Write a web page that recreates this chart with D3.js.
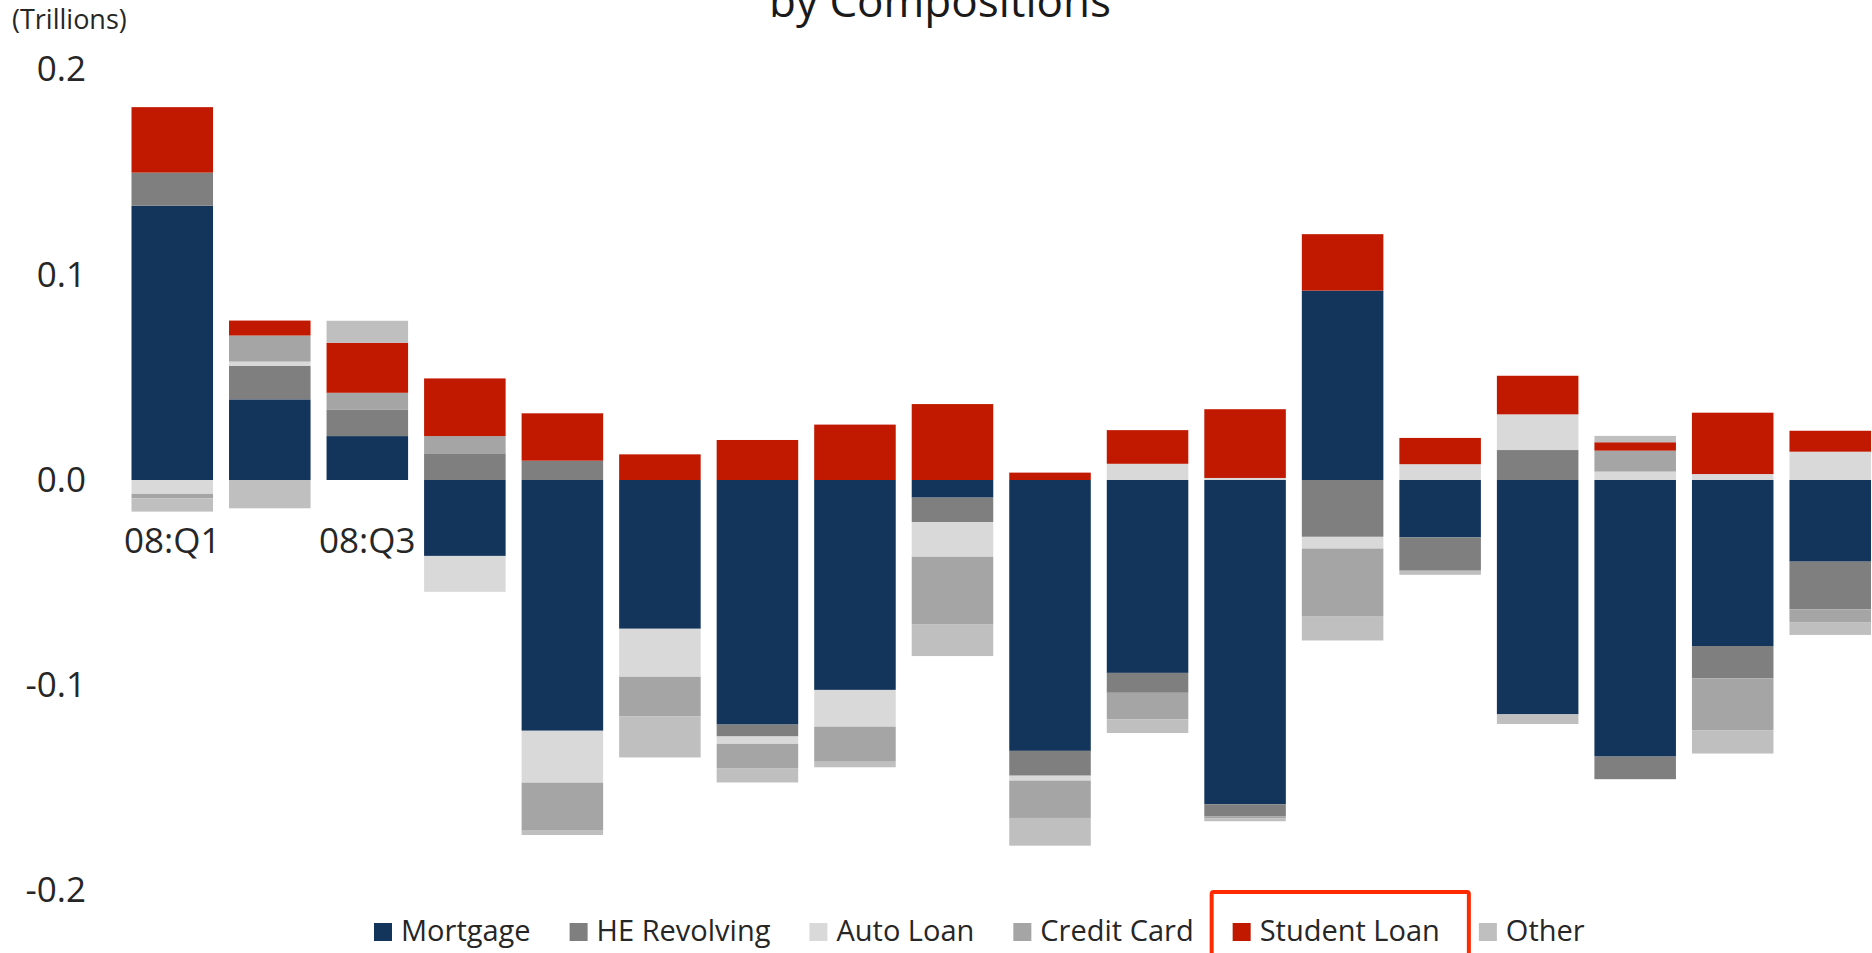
<!DOCTYPE html>
<html>
<head>
<meta charset="utf-8">
<script src="https://cdn.jsdelivr.net/npm/d3@7"></script>
<style>
  html, body { margin: 0; padding: 0; background: #ffffff; }
  svg { display: block; }
  text { font-family: "Open Sans", "DejaVu Sans", sans-serif; }
</style>
</head>
<body>
<svg id="chart" width="1872" height="953"></svg>
<script>
// ---- data ----
const categories = ["08:Q1","08:Q2","08:Q3","08:Q4","09:Q1","09:Q2","09:Q3","09:Q4",
                    "10:Q1","10:Q2","10:Q3","10:Q4","11:Q1","11:Q2","11:Q3","11:Q4","12:Q1","12:Q2"];
const seriesNames = ["Mortgage","HE Revolving","Auto Loan","Credit Card","Student Loan","Other"];
const mortgage    = [0.1337, 0.0393, 0.0214, -0.0370, -0.1222, -0.0725, -0.1192, -0.1023, -0.0086, -0.1320, -0.0940, -0.1580, 0.0923, -0.0280, -0.1142, -0.1348, -0.0809, -0.0398];
const heRevolving = [0.0161, 0.0164, 0.0130, 0.0130, 0.0094, 0, -0.0058, 0, -0.0120, -0.0121, -0.0097, -0.0058, -0.0277, -0.0162, 0.0146, -0.0110, -0.0158, -0.0232];
const autoLoan    = [-0.0068, 0.0020, 0, -0.0175, -0.0253, -0.0234, -0.0036, -0.0179, -0.0168, -0.0024, 0.0079, 0.0010, -0.0057, 0.0077, 0.0174, 0.0041, 0.0029, 0.0138];
const creditCard  = [-0.0021, 0.0127, 0.0081, 0.0084, -0.0234, -0.0192, -0.0118, -0.0171, -0.0328, -0.0182, -0.0129, -0.0010, -0.0329, 0, 0, 0.0102, -0.0252, -0.0065];
const studentLoan = [0.0319, 0.0073, 0.0244, 0.0281, 0.0231, 0.0125, 0.0195, 0.0270, 0.0370, 0.0036, 0.0164, 0.0335, 0.0275, 0.0128, 0.0188, 0.0041, 0.0299, 0.0102];
const other       = [-0.0065, -0.0138, 0.0107, 0, -0.0021, -0.0201, -0.0070, -0.0027, -0.0156, -0.0135, -0.0067, -0.0015, -0.0119, -0.0020, -0.0047, 0.0031, -0.0114, -0.0060];
const yTickValues = [0.2, 0.1, 0.0, -0.1, -0.2];
const yTickLabels = ["0.2", "0.1", "0.0", "-0.1", "-0.2"];
const xTickLabels = ["08:Q1", "08:Q3"];
const titleText = "by Compositions";
const unitText = "(Trillions)";
const highlighted = "Student Loan";

// ---- styles ----
const colors = ["#13355c", "#7f7f7f", "#d9d9d9", "#a5a5a5", "#c01900", "#bfbfbf"];

const seriesValues = [mortgage, heRevolving, autoLoan, creditCard, studentLoan, other];
const rows = categories.map((c, i) => {
  const r = { cat: c };
  seriesNames.forEach((s, j) => { r[s] = seriesValues[j][i]; });
  return r;
});

const svg = d3.select("#chart");
svg.append("rect").attr("width", 1872).attr("height", 953).attr("fill", "#ffffff");

const x = d3.scaleBand().domain(categories).range([123.5, 1879]).paddingInner(0.164).paddingOuter(0.082);
const y = d3.scaleLinear().domain([-0.2, 0.2]).range([890.4, 69.6]);
const color = d3.scaleOrdinal().domain(seriesNames).range(colors);

// title (its first line lies outside the view, as in the reference)
svg.append("text").attr("x", 940).attr("y", 17).attr("text-anchor", "middle")
  .attr("font-size", 44).attr("fill", "#1a1a1a").text(titleText);

svg.append("text").attr("x", 12).attr("y", 29)
  .attr("font-size", 27).attr("fill", "#262626").text(unitText);

// y axis (labels only)
const yAxis = d3.axisLeft(y).tickValues(yTickValues)
  .tickFormat((d, i) => yTickLabels[i]).tickSize(0).tickPadding(10);
const gy = svg.append("g").attr("transform", "translate(96,0)").call(yAxis);
gy.select(".domain").remove();
gy.selectAll("text").attr("font-size", 35).attr("fill", "#262626")
  .attr("font-family", "'Open Sans', sans-serif");

// x axis labels at zero line (drawn under bars)
const xAxis = d3.axisBottom(x).tickValues(xTickLabels).tickSize(0).tickPadding(48);
const gx = svg.append("g").attr("transform", `translate(0,${y(0)})`).call(xAxis);
gx.select(".domain").remove();
gx.selectAll("text").attr("font-size", 35).attr("fill", "#262626")
  .attr("font-family", "'Open Sans', sans-serif").attr("dy", "0.71em");

// stacked bars
const stack = d3.stack().keys(seriesNames).offset(d3.stackOffsetDiverging);
const layers = stack(rows);
svg.append("g").selectAll("g").data(layers).join("g")
  .attr("fill", d => color(d.key))
  .selectAll("rect").data(d => d).join("rect")
  .attr("x", d => x(d.data.cat))
  .attr("width", x.bandwidth())
  .attr("y", d => y(Math.max(d[0], d[1])))
  .attr("height", d => Math.abs(y(d[0]) - y(d[1])));

// legend
const legend = svg.append("g");
const sq = 18, sqGap = 9, itemGap = 39, legendBaseline = 941;
let cx = 0;
const items = [];
seriesNames.forEach((s) => {
  const g = legend.append("g");
  g.append("rect").attr("x", cx).attr("y", legendBaseline - 18).attr("width", sq).attr("height", sq)
    .attr("fill", color(s));
  const t = g.append("text").attr("x", cx + sq + sqGap).attr("y", legendBaseline)
    .attr("font-size", 29).attr("fill", "#262626").text(s);
  const w = t.node().getComputedTextLength();
  items.push({ name: s, x0: cx, x1: cx + sq + sqGap + w });
  cx += sq + sqGap + w + itemGap;
});
const legendStart = 374;
legend.attr("transform", `translate(${legendStart},0)`);

// highlight box around Student Loan legend entry
const hi = items.find(d => d.name === highlighted);
svg.append("rect")
  .attr("x", legendStart + hi.x0 - 21)
  .attr("y", 892)
  .attr("width", hi.x1 - hi.x0 + 50)
  .attr("height", 80)
  .attr("rx", 2)
  .attr("fill", "none")
  .attr("stroke", "#ff2a00")
  .attr("stroke-width", 4);
</script>
</body>
</html>
